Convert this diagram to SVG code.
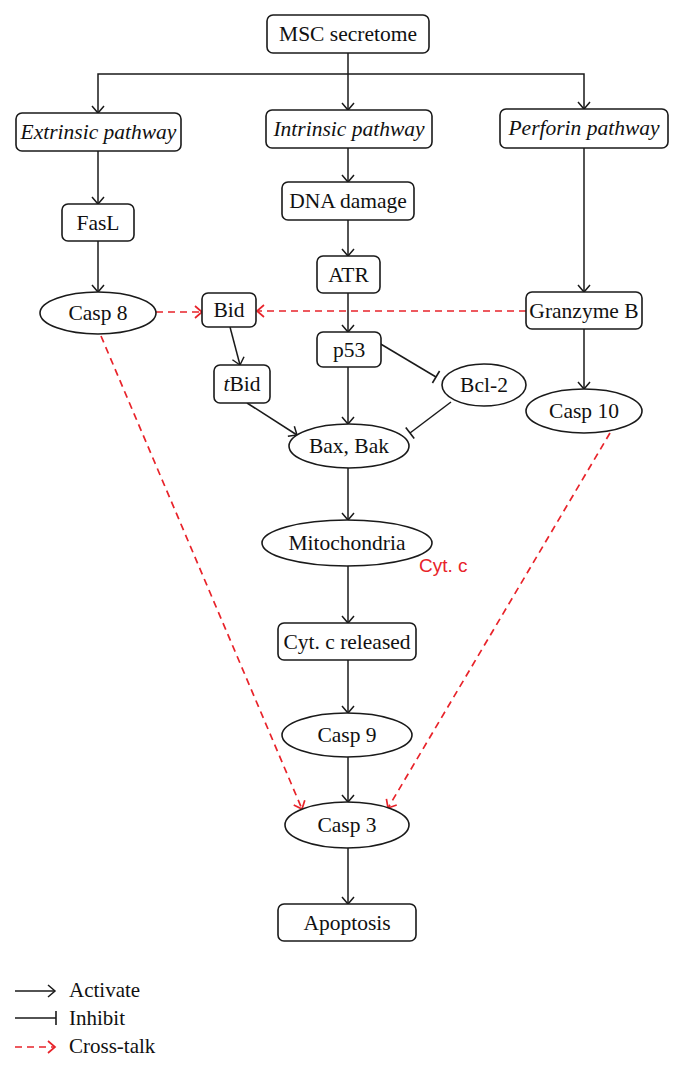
<svg xmlns="http://www.w3.org/2000/svg" width="680" height="1068" viewBox="0 0 680 1068">
<style>
.box{fill:#fff;stroke:#1a1a1a;stroke-width:1.6}
.t{font-family:"Liberation Serif","Times New Roman",serif;font-size:21.5px;fill:#111;text-anchor:middle}
.it{font-style:italic}
.c{fill:none;stroke:#1a1a1a;stroke-width:1.5}
.r{fill:none;stroke:#e8232a;stroke-width:1.7;stroke-dasharray:7 5}
.lg{font-family:"Liberation Serif","Times New Roman",serif;font-size:21px;fill:#111}
</style>
<defs>
<marker id="arr" markerUnits="userSpaceOnUse" viewBox="-9 -8 11 16" refX="0" refY="0" markerWidth="11" markerHeight="16" orient="auto" overflow="visible">
<path d="M-7,-6 L0,0 L-7,6" fill="none" stroke="#1a1a1a" stroke-width="1.5"/>
</marker>
<marker id="arrR" markerUnits="userSpaceOnUse" viewBox="-9 -8 11 16" refX="0" refY="0" markerWidth="11" markerHeight="16" orient="auto" overflow="visible">
<path d="M-7,-6 L0,0 L-7,6" fill="none" stroke="#e8232a" stroke-width="1.7"/>
</marker>
<marker id="bar" markerUnits="userSpaceOnUse" viewBox="-2 -8 4 16" refX="0" refY="0" markerWidth="4" markerHeight="16" orient="auto" overflow="visible">
<path d="M0,-7 L0,7" fill="none" stroke="#1a1a1a" stroke-width="1.6"/>
</marker>
</defs>
<rect width="680" height="1068" fill="#fff"/>
<g id="connectors">
<path class="c" d="M348,53 V110" marker-end="url(#arr)"/>
<path class="c" d="M348,74 H98 V113" marker-end="url(#arr)"/>
<path class="c" d="M348,74 H584 V109" marker-end="url(#arr)"/>
<path class="c" d="M98,151 V204" marker-end="url(#arr)"/>
<path class="c" d="M98,241 V292" marker-end="url(#arr)"/>
<path class="c" d="M348,148 V182" marker-end="url(#arr)"/>
<path class="c" d="M348,220 V256" marker-end="url(#arr)"/>
<path class="c" d="M348,293 V332" marker-end="url(#arr)"/>
<path class="c" d="M584,148 V292" marker-end="url(#arr)"/>
<path class="c" d="M584,329 V389" marker-end="url(#arr)"/>
<path class="c" d="M230,327 L240,365" marker-end="url(#arr)"/>
<path class="c" d="M348,367 V424" marker-end="url(#arr)"/>
<path class="c" d="M247,403 L297,435" marker-end="url(#arr)"/>
<path class="c" d="M379,343 L436,377" marker-end="url(#bar)"/>
<path class="c" d="M451,402 L410,433" marker-end="url(#bar)"/>
<path class="c" d="M348,468 V520" marker-end="url(#arr)"/>
<path class="c" d="M348,566 V623" marker-end="url(#arr)"/>
<path class="c" d="M348,660 V713" marker-end="url(#arr)"/>
<path class="c" d="M348,757 V802" marker-end="url(#arr)"/>
<path class="c" d="M348,848 V904" marker-end="url(#arr)"/>
<path class="r" d="M156,312 L202,312" marker-end="url(#arrR)"/>
<path class="r" d="M526,311 L257,311" marker-end="url(#arrR)"/>
<path class="r" d="M101,336 L302,809" marker-end="url(#arrR)"/>
<path class="r" d="M610,433 L388,808" marker-end="url(#arrR)"/>
</g>
<g id="msc"><rect class="box" x="267" y="15" width="162" height="38" rx="6"/><text class="t" x="348" y="41">MSC secretome</text></g>
<g id="extrinsic"><rect class="box" x="16" y="113" width="165" height="38" rx="6"/><text class="t it" x="98.5" y="139">Extrinsic pathway</text></g>
<g id="intrinsic"><rect class="box" x="266" y="110" width="166" height="38" rx="6"/><text class="t it" x="349" y="136">Intrinsic pathway</text></g>
<g id="perforin"><rect class="box" x="500" y="109" width="168" height="39" rx="6"/><text class="t it" x="584" y="135">Perforin pathway</text></g>
<g id="fasl"><rect class="box" x="62" y="204" width="72" height="37" rx="6"/><text class="t" x="98" y="230">FasL</text></g>
<g id="dna"><rect class="box" x="282" y="182" width="132" height="38" rx="6"/><text class="t" x="348" y="208">DNA damage</text></g>
<g id="atr"><rect class="box" x="317" y="256" width="63" height="37" rx="6"/><text class="t" x="348.5" y="282">ATR</text></g>
<g id="casp8"><ellipse class="box" cx="98" cy="313" rx="58" ry="21"/><text class="t" x="98" y="320">Casp 8</text></g>
<g id="bid"><rect class="box" x="202" y="293" width="54" height="34" rx="6"/><text class="t" x="229" y="317">Bid</text></g>
<g id="granzyme"><rect class="box" x="526" y="292" width="116" height="37" rx="6"/><text class="t" x="584" y="318">Granzyme B</text></g>
<g id="p53"><rect class="box" x="317" y="332" width="64" height="35" rx="6"/><text class="t" x="349" y="357">p53</text></g>
<g id="tbid"><rect class="box" x="214" y="365" width="56" height="38" rx="6"/><text class="t" x="242" y="391"><tspan class="it">t</tspan>Bid</text></g>
<g id="bcl2"><ellipse class="box" cx="484" cy="385" rx="42" ry="21"/><text class="t" x="484" y="392">Bcl-2</text></g>
<g id="casp10"><ellipse class="box" cx="584" cy="411" rx="58" ry="22"/><text class="t" x="584" y="418">Casp 10</text></g>
<g id="baxbak"><ellipse class="box" cx="349" cy="446" rx="60" ry="22"/><text class="t" x="349" y="453">Bax, Bak</text></g>
<g id="mito"><ellipse class="box" cx="347" cy="543" rx="85" ry="23"/><text class="t" x="347" y="550">Mitochondria</text></g>
<g id="cytc-label"><text x="419" y="572" font-family="Liberation Sans, Arial, sans-serif" font-size="19" fill="#e8232a">Cyt. c</text></g>
<g id="cytc"><rect class="box" x="278" y="623" width="138" height="37" rx="6"/><text class="t" x="347" y="649">Cyt. c released</text></g>
<g id="casp9"><ellipse class="box" cx="347" cy="735" rx="65" ry="22"/><text class="t" x="347" y="742">Casp 9</text></g>
<g id="casp3"><ellipse class="box" cx="347" cy="825" rx="62" ry="23"/><text class="t" x="347" y="832">Casp 3</text></g>
<g id="apoptosis"><rect class="box" x="278" y="904" width="138" height="37" rx="6"/><text class="t" x="347" y="930">Apoptosis</text></g>
<g id="legend">
<path class="c" d="M15,991 H55" marker-end="url(#arr)"/>
<text class="lg" x="69" y="997">Activate</text>
<path class="c" d="M15,1018 H56" marker-end="url(#bar)"/>
<text class="lg" x="69" y="1025">Inhibit</text>
<path class="r" d="M15,1047 H55" marker-end="url(#arrR)"/>
<text class="lg" x="69" y="1053">Cross-talk</text>
</g>
</svg>
